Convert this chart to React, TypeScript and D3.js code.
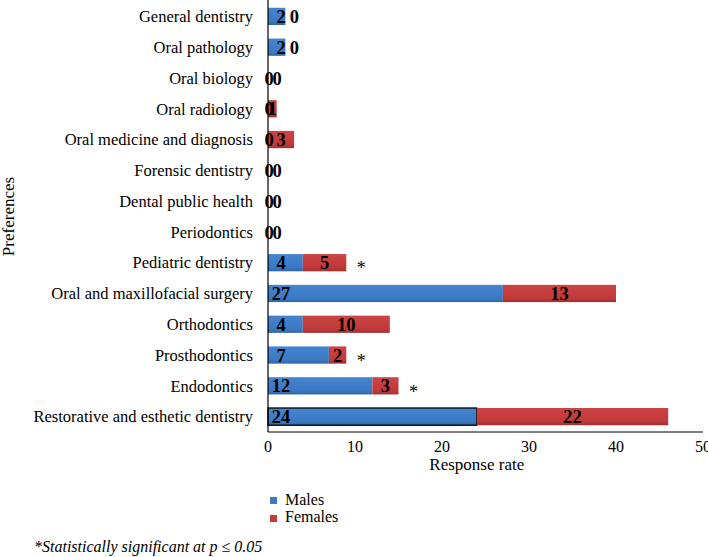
import * as React from 'react';
import * as d3 from 'd3';

const categories = [
  'General dentistry',
  'Oral pathology',
  'Oral biology',
  'Oral radiology',
  'Oral medicine and diagnosis',
  'Forensic dentistry',
  'Dental public health',
  'Periodontics',
  'Pediatric dentistry',
  'Oral and maxillofacial surgery',
  'Orthodontics',
  'Prosthodontics',
  'Endodontics',
  'Restorative and esthetic dentistry',
];
const males = [2, 2, 0, 0, 0, 0, 0, 0, 4, 27, 4, 7, 12, 24];
const females = [0, 0, 0, 1, 3, 0, 0, 0, 5, 13, 10, 2, 3, 22];
const significant = ['Pediatric dentistry', 'Prosthodontics', 'Endodontics'];
const xTicks = [0, 10, 20, 30, 40, 50];

const BLUE = '#3b7bc6';
const RED = '#c23a3b';
const SERIF = '"Liberation Serif", "Times New Roman", serif';

export default function App() {
  const width = 708;
  const height = 557;
  const margin = { top: 1, right: 5, bottom: 125, left: 268 };

  const x = d3.scaleLinear().domain([0, 50]).range([margin.left, width - margin.right]);
  const y = d3.scaleBand<string>()
    .domain(categories)
    .range([margin.top, height - margin.bottom])
    .paddingInner(0.44)
    .paddingOuter(0.22);

  const rows = categories.map((c, i) => ({ c, m: males[i], f: females[i] }));
  const axisY = height - margin.bottom;

  return (
    <svg width={width} height={height} style={{ position: 'absolute', left: 0, top: 0, background: '#fff' }}
      fontFamily={SERIF}>
      <defs>
        <linearGradient id="gBlue" x1="0" y1="0" x2="0" y2="1">
          <stop offset="0" stopColor="#4585cf" />
          <stop offset="0.8" stopColor="#3a78c2" />
          <stop offset="1" stopColor="#2f65a6" />
        </linearGradient>
        <linearGradient id="gRed" x1="0" y1="0" x2="0" y2="1">
          <stop offset="0" stopColor="#cc4444" />
          <stop offset="0.8" stopColor="#c0393a" />
          <stop offset="1" stopColor="#a32e2f" />
        </linearGradient>
      </defs>

      {rows.map(r => {
        const y0 = y(r.c) ?? 0;
        const bh = y.bandwidth();
        const cy = y0 + bh / 2;
        const isRest = r.c === 'Restorative and esthetic dentistry';
        return (
          <g key={r.c}>
            <text x={margin.left - 15} y={cy} dy="0.35em" textAnchor="end" fontSize={16.5}>{r.c}</text>
            {r.m > 0 && (
              <rect x={x(0)} y={y0} width={x(r.m) - x(0)} height={bh} fill="url(#gBlue)"
                stroke={isRest ? '#000' : 'none'} strokeWidth={1.3} />
            )}
            {r.f > 0 && (
              <rect x={x(r.m)} y={y0} width={x(r.m + r.f) - x(r.m)} height={bh} fill="url(#gRed)" />
            )}
            <text x={r.m > 0 ? x(0) + 13 : x(0) + 1} y={cy} dy="0.36em" textAnchor="middle"
              fontSize={18.5} fontWeight="bold">{r.m}</text>
            <text x={r.f > 0 ? x(r.m + r.f / 2) : x(r.m) + 9} y={cy} dy="0.36em" textAnchor="middle"
              fontSize={18.5} fontWeight="bold">{r.f}</text>
            {significant.includes(r.c) && (
              <text x={x(r.m + r.f) + 15} y={cy} dy="0.65em" textAnchor="middle" fontSize={18}>*</text>
            )}
          </g>
        );
      })}

      <line x1={x(0)} x2={x(0)} y1={margin.top - 1} y2={axisY} stroke="#000" strokeWidth={1.2} />
      <line x1={x(0)} x2={x(50)} y1={axisY} y2={axisY} stroke="#000" strokeWidth={1.2} />
      {xTicks.map(t => (
        <text key={t} x={x(t)} y={axisY + 20} textAnchor="middle" fontSize={16}>{t}</text>
      ))}
      <text x={x(24)} y={axisY + 38} textAnchor="middle" fontSize={17}>Response rate</text>
      <text transform={`translate(14,${(margin.top + axisY) / 2}) rotate(-90)`} textAnchor="middle"
        fontSize={17}>Preferences</text>

      <rect x={270} y={497} width={7} height={7} fill={BLUE} />
      <text x={285} y={505} fontSize={16}>Males</text>
      <rect x={270} y={515} width={7} height={7} fill={RED} />
      <text x={285} y={522} fontSize={16}>Females</text>

      <text x={34} y={552} fontSize={16} fontStyle="italic">*Statistically significant at p ≤ 0.05</text>
    </svg>
  );
}
